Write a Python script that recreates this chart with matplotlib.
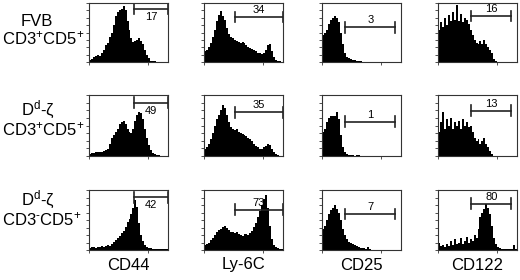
import numpy as np
import matplotlib
matplotlib.use("Agg")
import matplotlib.pyplot as plt

plt.rcParams['font.family'] = ['Liberation Sans', 'DejaVu Sans']
plt.rcParams['mathtext.fontset'] = 'custom'
plt.rcParams['mathtext.rm'] = 'Liberation Sans'
plt.rcParams['mathtext.it'] = 'Liberation Sans:italic'

markers = ["CD44", "Ly-6C", "CD25", "CD122"]
row_top = ["FVB", r"D$^{\mathregular{d}}$-ζ", r"D$^{\mathregular{d}}$-ζ"]
row_bottom = [r"CD3$^{\mathregular{+}}$CD5$^{\mathregular{+}}$",
              r"CD3$^{\mathregular{+}}$CD5$^{\mathregular{+}}$",
              "CD3$^{\\mathregular{\u2010}}$CD5$^{\\mathregular{+}}$"]

# histogram heights (fraction of panel height), 40 log bins over 4 decades
fvb_cd44 = [0.03,0.05,0.08,0.10,0.12,0.10,0.15,0.20,0.28,0.33,0.42,0.50,0.62,0.78,0.85,0.88,0.90,0.95,0.88,0.70,
            0.55,0.40,0.34,0.36,0.38,0.40,0.36,0.30,0.20,0.12,0.06,0.02,0.01,0.01,0,0,0,0,0,0]
fvb_ly6c = [0.18,0.20,0.25,0.32,0.42,0.55,0.70,0.80,0.86,0.78,0.72,0.58,0.48,0.42,0.40,0.37,0.36,0.34,0.33,0.34,
            0.32,0.28,0.26,0.24,0.22,0.20,0.18,0.16,0.15,0.14,0.16,0.20,0.28,0.30,0.18,0.08,0.04,0.02,0.01,0]
fvb_cd25 = [0.45,0.50,0.55,0.65,0.72,0.75,0.78,0.74,0.68,0.50,0.30,0.15,0.08,0.06,0.05,0.04,0.03,0.02,0.01,0.01,
            0,0,0,0,0,0,0,0,0,0,0,0,0,0,0,0,0,0,0,0]
fvb_cd122 = [0.55,0.68,0.60,0.75,0.62,0.80,0.70,0.85,0.72,0.97,0.70,0.82,0.68,0.75,0.72,0.65,0.55,0.45,0.38,0.32,
             0.30,0.35,0.30,0.38,0.30,0.25,0.20,0.15,0.05,0.02,0,0,0,0,0,0,0,0,0,0]

dz_cd44 = [0.04,0.05,0.05,0.06,0.06,0.06,0.07,0.08,0.10,0.12,0.20,0.30,0.35,0.40,0.45,0.52,0.56,0.58,0.52,0.45,
           0.40,0.38,0.45,0.58,0.68,0.72,0.70,0.60,0.45,0.30,0.18,0.10,0.05,0.03,0.02,0.01,0,0,0,0]
dz_ly6c = [0.12,0.15,0.20,0.28,0.38,0.50,0.60,0.68,0.75,0.84,0.78,0.68,0.55,0.48,0.44,0.42,0.45,0.40,0.38,0.36,
           0.35,0.32,0.30,0.28,0.24,0.20,0.17,0.15,0.12,0.12,0.14,0.16,0.20,0.18,0.12,0.06,0.03,0.01,0,0]
dz_cd25 = [0.40,0.45,0.55,0.62,0.66,0.66,0.65,0.72,0.60,0.35,0.15,0.06,0.03,0.02,0.01,0.01,0,0.01,0.01,0,
           0,0,0,0,0,0,0,0,0,0,0,0,0,0,0,0,0,0,0,0]
dz_cd122 = [0.40,0.55,0.72,0.45,0.60,0.50,0.62,0.45,0.55,0.50,0.58,0.45,0.60,0.50,0.55,0.48,0.50,0.40,0.30,0.25,
            0.28,0.20,0.25,0.30,0.20,0.15,0.08,0.03,0,0,0,0,0,0,0,0,0,0,0,0]

dzn_cd44 = [0.04,0.05,0.05,0.04,0.05,0.05,0.06,0.05,0.06,0.08,0.07,0.10,0.13,0.16,0.20,0.24,0.28,0.32,0.38,0.46,
            0.52,0.60,0.70,0.83,0.72,0.45,0.25,0.15,0.08,0.05,0.04,0.03,0.02,0.02,0.02,0.02,0.02,0.02,0.02,0.02]
dzn_ly6c = [0.08,0.10,0.12,0.16,0.20,0.25,0.30,0.33,0.35,0.38,0.40,0.36,0.34,0.30,0.30,0.28,0.30,0.27,0.25,0.24,
            0.26,0.27,0.25,0.28,0.32,0.38,0.45,0.55,0.65,0.75,0.85,0.91,0.70,0.40,0.18,0.08,0.05,0.03,0.02,0.01]
dzn_cd25 = [0.35,0.40,0.50,0.60,0.66,0.70,0.75,0.68,0.62,0.50,0.35,0.25,0.18,0.14,0.12,0.10,0.08,0.07,0.05,0.04,
            0.03,0.03,0.02,0.05,0.01,0,0,0,0,0,0,0,0,0,0,0,0,0,0,0]
dzn_cd122 = [0.12,0.06,0.08,0.05,0.10,0.06,0.15,0.08,0.18,0.10,0.12,0.20,0.10,0.15,0.22,0.12,0.18,0.15,0.25,0.20,
             0.35,0.55,0.62,0.68,0.77,0.70,0.60,0.40,0.20,0.10,0.05,0.03,0.02,0.02,0.02,0.02,0.01,0.02,0.08,0.02]

hists = [[fvb_cd44, fvb_ly6c, fvb_cd25, fvb_cd122],
         [dz_cd44, dz_ly6c, dz_cd25, dz_cd122],
         [dzn_cd44, dzn_ly6c, dzn_cd25, dzn_cd122]]

gate_pct = [[17, 34, 3, 16], [49, 35, 1, 13], [42, 73, 7, 80]]
gate_start = [0.57, 0.39, 0.29, 0.42]   # fraction of axis width
gate_end = [1.0, 1.0, 0.93, 0.93]
gate_y = [[0.90, 0.76, 0.59, 0.78], [0.87, 0.72, 0.56, 0.74], [0.88, 0.67, 0.60, 0.77]]

W, H = 520, 280
col_left = [89, 204, 322, 438]
col_w = 79
row_top_px = [3, 95, 190]
row_h = [59, 61, 60]

fig = plt.figure(figsize=(5.2, 2.8), dpi=100)
edges = np.logspace(0, 4, 41)

for r in range(3):
    for c in range(4):
        ax = fig.add_axes([col_left[c] / W, 1 - (row_top_px[r] + row_h[r]) / H, col_w / W, row_h[r] / H])
        ax.stairs(hists[r][c], edges, fill=True, color='black', linewidth=0)
        ax.set_xscale('log')
        ax.set_xlim(1, 1e4)
        ax.set_ylim(0, 1.0)
        ax.set_yticks(np.linspace(0, 1, 9))
        ax.tick_params(which='both', direction='out', labelbottom=False, labelleft=False,
                       length=2, width=0.6, color='#333333')
        ax.tick_params(which='minor', length=1.2)
        for s in ax.spines.values():
            s.set_linewidth(0.8)
            s.set_color('#333333')
        # gate bracket
        x0, x1, gy = gate_start[c], gate_end[c], gate_y[r][c]
        tr = ax.transAxes
        ax.plot([x0, x1], [gy, gy], color='#222222', lw=1.2, transform=tr, clip_on=False)
        ax.plot([x0, x0], [gy - 0.09, gy + 0.09], color='#222222', lw=1.2, transform=tr, clip_on=False)
        ax.plot([x1, x1], [gy - 0.09, gy + 0.09], color='#222222', lw=1.2, transform=tr, clip_on=False)
        if c == 0:
            ax.text((x0 + x1) / 2, gy - 0.05, str(gate_pct[r][c]), transform=tr,
                    ha='center', va='top', fontsize=8)
        else:
            ax.text((x0 + x1) / 2, gy + 0.03, str(gate_pct[r][c]), transform=tr,
                    ha='center', va='bottom', fontsize=8)

# column labels
for c in range(4):
    fig.text((col_left[c] + col_w / 2) / W, 1 - 265 / H, markers[c],
             ha='center', va='center', fontsize=12)

# row labels
top_y = [21, 110, 200]
bot_y = [38, 129, 219]
for r in range(3):
    fig.text(21 / W, 1 - top_y[r] / H, row_top[r], ha='left', va='center', fontsize=12)
    fig.text(2 / W, 1 - bot_y[r] / H, row_bottom[r], ha='left', va='center', fontsize=12)

fig.savefig("out.png", dpi=100)
